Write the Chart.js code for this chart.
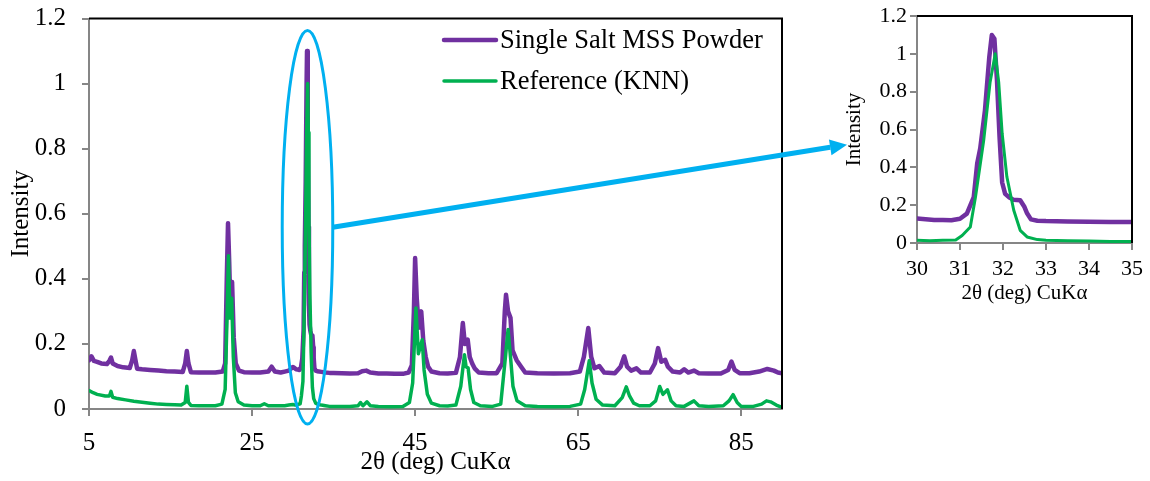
<!DOCTYPE html>
<html>
<head>
<title>XRD pattern</title>
<script src="https://cdn.jsdelivr.net/npm/chart.js@4.4.0/dist/chart.umd.min.js"></script>
<style>
    body { margin: 0; background: #fff; width: 1150px; height: 481px; position: relative; overflow: hidden; }
    #mainChart { position: absolute; left: 0; top: 0; }
    #zoomChart { position: absolute; left: 830px; top: 0; }
    #overlay { position: absolute; left: 0; top: 0; pointer-events: none; }
</style>
</head>
<body>
<canvas id="mainChart" width="800" height="481"></canvas>
<canvas id="zoomChart" width="320" height="310"></canvas>
<canvas id="overlay" width="1150" height="481"></canvas>

<script>
    // 2θ scan, single salt MSS powder
    const mssX = [5.0, 5.3, 5.6, 6.0, 6.5, 7.2, 7.5, 7.7, 7.9, 8.5, 9.2, 10.0, 10.3, 10.5, 10.7, 10.9, 11.5, 12.5, 13.5, 14.5,
        15.5, 16.5, 16.8, 17.0, 17.2, 17.5, 18.5, 19.5, 20.5, 21.4, 21.7, 21.9, 22.05, 22.2, 22.35, 22.55, 22.75, 23.0, 23.4, 24.0,
        25.0, 26.0, 27.0, 27.4, 27.8, 28.5, 29.0, 29.5,
        30.0, 30.2, 30.4, 30.6, 30.8, 31.0, 31.16, 31.32, 31.4, 31.47, 31.58, 31.68, 31.74, 31.8, 31.86, 31.92, 31.98, 32.05,
        32.15, 32.25, 32.4, 32.5, 32.56, 32.65, 32.8, 33.0, 33.5, 34.0, 34.5, 35.0,
        36.0, 37.0, 38.0, 38.5, 39.0, 39.5, 40.5, 41.5, 42.5, 43.5, 44.2, 44.6, 44.85, 45.0, 45.2, 45.45, 45.75, 46.0, 46.3, 46.6,
        47.0, 48.0, 49.0, 50.0, 50.5, 50.85, 51.1, 51.45, 51.7, 52.0, 52.3, 52.8, 54.0, 55.0, 55.7, 56.0, 56.15, 56.4, 56.7, 56.95,
        57.45, 58.0, 58.5, 60.0, 62.0, 64.0, 65.2, 65.7, 66.24, 66.6, 67.0, 67.6, 68.2, 69.5, 70.2, 70.65, 71.0, 71.5, 72.15, 72.7,
        73.8, 74.4, 74.8, 75.2, 75.67, 76.0, 76.6, 77.5, 78.0, 78.5, 79.2, 79.8, 81.0, 82.5, 83.4, 83.8, 84.2, 84.8, 86.0, 87.2,
        88.2, 89.0, 89.5, 90.0];
    const mssY = [0.150, 0.162, 0.148, 0.145, 0.140, 0.138, 0.148, 0.158, 0.140, 0.132, 0.128, 0.126, 0.150, 0.178, 0.150, 0.124, 0.122, 0.120, 0.118, 0.116,
        0.115, 0.114, 0.140, 0.178, 0.140, 0.113, 0.112, 0.112, 0.112, 0.115, 0.140, 0.400, 0.571, 0.450, 0.300, 0.390, 0.220, 0.140, 0.118, 0.113,
        0.112, 0.112, 0.115, 0.130, 0.115, 0.112, 0.115, 0.118,
        0.129, 0.126, 0.122, 0.121, 0.120, 0.128, 0.155, 0.243, 0.420, 0.500, 0.700, 0.980, 1.100, 1.080, 0.860, 0.560, 0.320, 0.260,
        0.240, 0.228, 0.226, 0.190, 0.157, 0.125, 0.118, 0.116, 0.114, 0.112, 0.111, 0.111,
        0.110, 0.109, 0.110, 0.116, 0.118, 0.112, 0.109, 0.109, 0.108, 0.108, 0.112, 0.135, 0.300, 0.464, 0.340, 0.250, 0.300, 0.210, 0.160, 0.130,
        0.115, 0.110, 0.109, 0.111, 0.160, 0.264, 0.200, 0.213, 0.160, 0.140, 0.125, 0.112, 0.110, 0.110, 0.140, 0.300, 0.351, 0.300, 0.280, 0.180,
        0.150, 0.130, 0.112, 0.110, 0.109, 0.110, 0.115, 0.160, 0.249, 0.160, 0.125, 0.132, 0.112, 0.110, 0.130, 0.162, 0.130, 0.118, 0.125, 0.112,
        0.112, 0.140, 0.187, 0.145, 0.151, 0.130, 0.115, 0.112, 0.122, 0.112, 0.118, 0.110, 0.109, 0.109, 0.120, 0.146, 0.120, 0.110, 0.110, 0.115,
        0.123, 0.118, 0.112, 0.110];

    // 2θ scan, KNN reference
    const knnX = [5.0, 5.5, 6.0, 7.0, 7.5, 7.7, 7.9, 8.5, 9.5, 10.5, 11.5, 12.5, 13.5, 14.5, 15.5, 16.3, 16.8, 17.0, 17.2, 17.5,
        18.5, 19.5, 20.5, 21.3, 21.7, 21.95, 22.1, 22.3, 22.5, 22.7, 22.95, 23.3, 24.0, 25.0, 26.0, 26.5, 27.0, 28.0, 29.0, 29.5,
        30.0, 30.3, 30.6, 30.9, 31.05, 31.24, 31.36, 31.55, 31.7, 31.82, 31.9, 31.98, 32.09, 32.25, 32.4, 32.56, 32.8, 33.0, 33.5, 34.0,
        34.5, 35.0,
        36.0, 37.0, 38.0, 38.3, 38.6, 39.1, 39.5, 40.5, 42.0, 43.5, 44.3, 44.7, 45.1, 45.4, 45.87, 46.1, 46.5, 47.0, 48.0, 49.0,
        50.0, 50.6, 51.05, 51.25, 51.5, 51.8, 52.2, 53.0, 54.5, 55.5, 56.0, 56.4, 56.7, 57.0, 57.5, 58.5, 60.0, 62.0, 64.0, 65.3,
        65.8, 66.36, 66.7, 67.2, 68.0, 69.5, 70.4, 70.9, 71.3, 71.8, 72.5, 73.8, 74.5, 75.0, 75.4, 75.95, 76.4, 77.0, 78.0, 79.2,
        79.8, 81.0, 82.8, 83.5, 84.0, 84.5, 85.0, 86.5, 87.5, 88.1, 88.6, 89.3, 90.0];
    const knnY = [0.057, 0.050, 0.045, 0.040, 0.040, 0.054, 0.036, 0.032, 0.028, 0.024, 0.021, 0.018, 0.015, 0.014, 0.013, 0.012, 0.020, 0.070, 0.020, 0.011,
        0.010, 0.010, 0.010, 0.015, 0.060, 0.300, 0.471, 0.280, 0.340, 0.160, 0.050, 0.022, 0.012, 0.010, 0.010, 0.016, 0.010, 0.010, 0.010, 0.012,
        0.014, 0.012, 0.014, 0.016, 0.040, 0.085, 0.243, 0.540, 0.850, 1.000, 0.850, 0.580, 0.350, 0.173, 0.067, 0.032, 0.018, 0.015, 0.012, 0.010,
        0.008, 0.008,
        0.008, 0.008, 0.010, 0.020, 0.010, 0.022, 0.010, 0.008, 0.007, 0.008, 0.020, 0.080, 0.310, 0.170, 0.213, 0.120, 0.045, 0.018, 0.010, 0.009,
        0.012, 0.070, 0.167, 0.130, 0.126, 0.060, 0.020, 0.010, 0.008, 0.015, 0.140, 0.244, 0.160, 0.070, 0.025, 0.010, 0.008, 0.007, 0.008, 0.015,
        0.060, 0.148, 0.080, 0.030, 0.012, 0.010, 0.035, 0.068, 0.040, 0.018, 0.010, 0.010, 0.025, 0.069, 0.045, 0.059, 0.025, 0.010, 0.008, 0.025,
        0.010, 0.008, 0.010, 0.025, 0.044, 0.020, 0.008, 0.008, 0.015, 0.025, 0.022, 0.012, 0.005];

    const seriesNames = ['Single Salt MSS Powder', 'Reference (KNN)'];
    const seriesColors = ['#7030A0', '#00B050'];

    const mainXTicks = [5, 25, 45, 65, 85];
    const zoomXTicks = [30, 31, 32, 33, 34, 35];
    const yTicks = [0, 0.2, 0.4, 0.6, 0.8, 1, 1.2];

    const SERIF = "'Liberation Serif', 'Times New Roman', serif";
    const AXIS_GREY = '#868686';

    function points(xs, ys) {
        return xs.map((x, i) => ({ x: x, y: ys[i] }));
    }

    // green trace is painted over the purple one (lower order = on top)
    function datasets(widths) {
        return [
            { label: seriesNames[0], data: points(mssX, mssY), borderColor: seriesColors[0], borderWidth: widths[0], order: 1 },
            { label: seriesNames[1], data: points(knnX, knnY), borderColor: seriesColors[1], borderWidth: widths[1], order: 0 }
        ].map(d => Object.assign(d, { pointRadius: 0, tension: 0, borderJoinStyle: 'round', borderCapStyle: 'round', fill: false }));
    }

    // c: sizes for one of the two panels
    function scales(c) {
        return {
            x: {
                type: 'linear', min: c.xmin, max: c.xmax,
                afterBuildTicks: s => { s.ticks = c.xticks.map(v => ({ value: v })); },
                afterFit: s => { s.height = c.xh; },
                grid: { drawOnChartArea: false, tickLength: c.tl, color: AXIS_GREY, lineWidth: 2 },
                border: { color: AXIS_GREY, width: 2 },
                ticks: { color: '#000', font: { family: SERIF, size: c.tick }, padding: c.xpad, maxRotation: 0, autoSkip: false },
                title: { display: true, text: '2θ (deg) CuKα', color: '#000', font: { family: SERIF, size: c.title }, padding: { top: 0, bottom: c.xtitlePad } }
            },
            y: {
                min: 0, max: 1.2,
                afterBuildTicks: s => { s.ticks = yTicks.map(v => ({ value: v })); },
                // fixed width; label overflow is left to the layout padding
                afterFit: s => { s.width = c.yw; s.paddingTop = 0; s.paddingBottom = 0; },
                grid: { drawOnChartArea: false, tickLength: c.tl, color: AXIS_GREY, lineWidth: 2 },
                border: { color: AXIS_GREY, width: 2 },
                ticks: { color: '#000', font: { family: SERIF, size: c.tick }, padding: c.ypad, callback: v => String(+v.toFixed(1)) },
                title: { display: true, text: 'Intensity', color: '#000', font: { family: SERIF, size: c.title }, padding: { top: c.ytitlePad, bottom: 0 } }
            }
        };
    }

    // black top and right edges of the plot box
    const frame = {
        id: 'frame',
        afterDraw(chart) {
            const { ctx, chartArea: a } = chart;
            ctx.save();
            ctx.strokeStyle = '#000';
            ctx.lineWidth = 2;
            ctx.beginPath();
            ctx.moveTo(a.left, a.top);
            ctx.lineTo(a.right, a.top);
            ctx.lineTo(a.right, a.bottom);
            ctx.stroke();
            ctx.restore();
        }
    };

    // legend inside the plot, upper right
    const insideLegend = {
        id: 'insideLegend',
        afterDraw(chart) {
            const ctx = chart.ctx;
            const rows = [{ y: 40, w: 4.5 }, { y: 81, w: 3.5 }];
            ctx.save();
            ctx.font = '26.5px ' + SERIF;
            ctx.textBaseline = 'middle';
            ctx.fillStyle = '#000';
            rows.forEach((r, i) => {
                ctx.strokeStyle = seriesColors[i];
                ctx.lineWidth = r.w;
                ctx.lineCap = 'round';
                ctx.beginPath();
                ctx.moveTo(444, r.y);
                ctx.lineTo(496, r.y);
                ctx.stroke();
                ctx.fillText(seriesNames[i], 500, r.y + 1);
            });
            ctx.restore();
        }
    };

    const mainChart = new Chart(document.getElementById('mainChart'), {
        type: 'line',
        data: { datasets: datasets([4.5, 3.5]) },
        options: {
            responsive: false,
            animation: false,
            layout: { padding: { left: 0, right: 18, top: 18.5, bottom: 0 } },
            plugins: { legend: { display: false }, tooltip: { enabled: false } },
            scales: scales({ xmin: 5, xmax: 90, xticks: mainXTicks, xh: 72, yw: 89, tl: 7, tick: 25, title: 25, xpad: 12, ypad: 16, xtitlePad: 4, ytitlePad: 6 })
        },
        plugins: [frame, insideLegend]
    });

    const zoomChart = new Chart(document.getElementById('zoomChart'), {
        type: 'line',
        data: { datasets: datasets([4.5, 3]) },
        options: {
            responsive: false,
            animation: false,
            layout: { padding: { left: 0, right: 18, top: 16, bottom: 0 } },
            plugins: { legend: { display: false }, tooltip: { enabled: false } },
            scales: scales({ xmin: 30, xmax: 35, xticks: zoomXTicks, xh: 67, yw: 87, tl: 7, tick: 22, title: 21, xpad: 6, ypad: 3, xtitlePad: 4, ytitlePad: 12 })
        },
        plugins: [frame]
    });

    // ellipse round the main peak and arrow to the zoomed panel
    function drawCallout() {
        const ring = { x0: 28.7, x1: 34.9, y0: -0.046, y1: 1.163 };
        const sx = mainChart.scales.x, sy = mainChart.scales.y;
        const ringL = sx.getPixelForValue(ring.x0), ringR = sx.getPixelForValue(ring.x1);
        const ringT = sy.getPixelForValue(ring.y1), ringB = sy.getPixelForValue(ring.y0);
        const cx = (ringL + ringR) / 2, cy = (ringT + ringB) / 2;

        const zoomOffset = 830;
        const tipX = zoomOffset + zoomChart.chartArea.left - 70;
        const tipY = zoomChart.scales.y.getPixelForValue(0.52);

        const ctx = document.getElementById('overlay').getContext('2d');
        ctx.strokeStyle = '#00B0F0';
        ctx.fillStyle = '#00B0F0';
        ctx.lineWidth = 3;
        ctx.beginPath();
        ctx.ellipse(cx, cy, (ringR - ringL) / 2, (ringB - ringT) / 2, 0, 0, Math.PI * 2);
        ctx.stroke();

        const ang = Math.atan2(tipY - cy, tipX - ringR);
        const headLen = 17, headHalf = 8;
        const baseX = tipX - headLen * Math.cos(ang), baseY = tipY - headLen * Math.sin(ang);
        ctx.lineWidth = 5;
        ctx.beginPath();
        ctx.moveTo(ringR, cy);
        ctx.lineTo(baseX, baseY);
        ctx.stroke();
        ctx.beginPath();
        ctx.moveTo(tipX, tipY);
        ctx.lineTo(baseX + headHalf * Math.sin(ang), baseY - headHalf * Math.cos(ang));
        ctx.lineTo(baseX - headHalf * Math.sin(ang), baseY + headHalf * Math.cos(ang));
        ctx.closePath();
        ctx.fill();
    }
    drawCallout();
</script>
</body>
</html>
